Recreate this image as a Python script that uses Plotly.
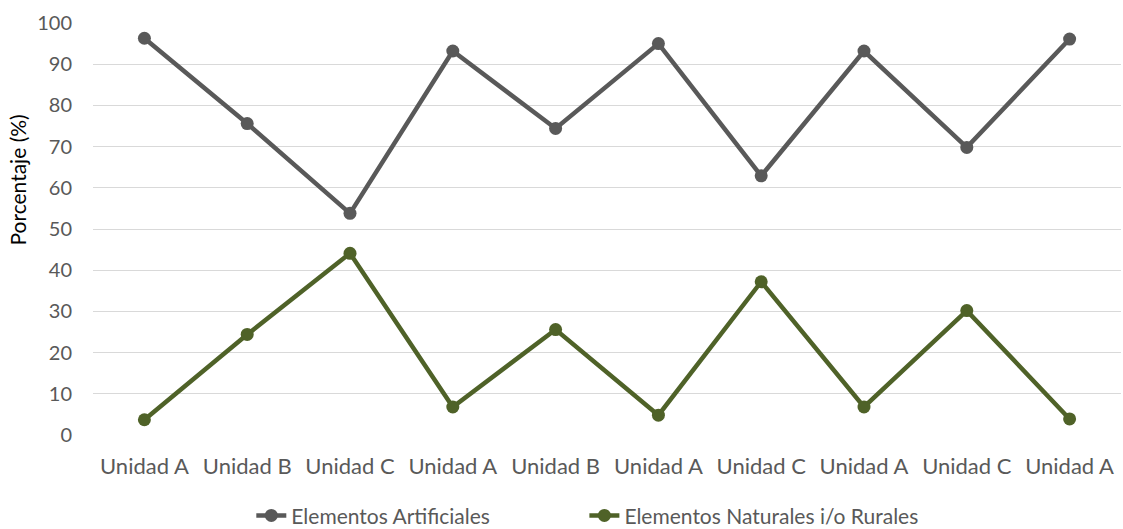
import plotly.graph_objects as go

# Unit labels along the x axis (repeated names, so positions are indexed)
unidades = ["Unidad A", "Unidad B", "Unidad C", "Unidad A", "Unidad B",
            "Unidad A", "Unidad C", "Unidad A", "Unidad C", "Unidad A"]

# Percentage of artificial vs natural/rural elements per unit
artificiales = [96.3, 75.6, 53.8, 93.2, 74.4, 95.0, 62.9, 93.2, 69.8, 96.1]
naturales = [3.7, 24.4, 44.1, 6.8, 25.6, 4.8, 37.2, 6.8, 30.2, 3.9]

y_ticks = list(range(0, 101, 10))

posiciones = list(range(len(unidades)))

FONT = "Lato, Calibri, 'Open Sans', sans-serif"
GRIS = "#595959"
VERDE = "#4F6228"

fig = go.Figure()
fig.add_trace(go.Scatter(
    x=posiciones, y=artificiales, mode="lines+markers",
    name="Elementos Artificiales", legend="legend",
    line=dict(color=GRIS, width=4.5),
    marker=dict(color=GRIS, size=13),
))
fig.add_trace(go.Scatter(
    x=posiciones, y=naturales, mode="lines+markers",
    name="Elementos Naturales i/o Rurales", legend="legend2",
    line=dict(color=VERDE, width=4.5),
    marker=dict(color=VERDE, size=13),
))

# Vertical axis title placed as a rotated annotation
fig.add_annotation(
    text="Porcentaje (%)", textangle=-90,
    xref="paper", yref="paper", x=-0.073, y=0.62,
    xanchor="center", yanchor="middle", showarrow=False,
    font=dict(family=FONT, size=21, color="black"),
)

legend_common = dict(orientation="h", xref="paper", xanchor="left",
                     y=-0.196, yanchor="middle",
                     font=dict(size=21, color=GRIS))

fig.update_layout(
    width=1123, height=529,
    paper_bgcolor="white", plot_bgcolor="white",
    margin=dict(l=93, r=2, t=23, b=94, autoexpand=False),
    font=dict(family=FONT, size=20, color=GRIS),
    showlegend=True,
    legend=dict(x=0.154, **legend_common),
    legend2=dict(x=0.478, **legend_common),
    xaxis=dict(
        range=[-0.5, len(unidades) - 0.5],
        tickvals=posiciones, ticktext=unidades,
        showgrid=False, zeroline=False, showline=False, ticks="",
        tickfont=dict(size=22, color=GRIS),
        ticklabelstandoff=16,
    ),
    yaxis=dict(
        range=[0, 100], tickvals=y_ticks,
        showgrid=True, gridcolor="#D9D9D9", gridwidth=1.3,
        zeroline=False, showline=False, ticks="",
        tickfont=dict(size=20, color=GRIS),
        ticklabelstandoff=20,
    ),
)

fig.write_html("out.html")
